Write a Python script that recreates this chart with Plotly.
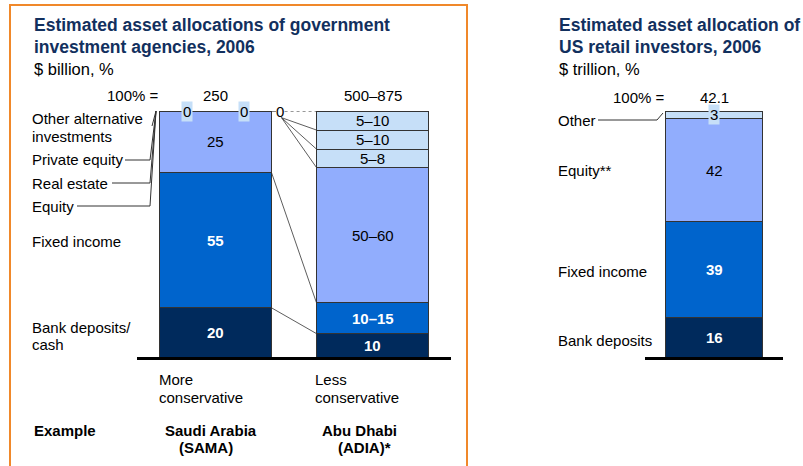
import plotly.graph_objects as go

# --- data -------------------------------------------------------------
agencies = ["SAMA", "ADIA"]
asset_classes = ["Bank deposits/cash", "Fixed income", "Equity",
                 "Real estate", "Private equity", "Other alternative investments"]
sama_share = [20, 55, 25, 0, 0, 0]
adia_share = [9.5, 12.5, 55, 7.5, 7.75, 7.75]      # midpoints of the ranges
adia_labels = ["10", "10–15", "50–60", "5–8", "5–10", "5–10"]
agency_totals = ["250", "500–875"]

us_classes = ["Bank deposits", "Fixed income", "Equity**", "Other"]
us_share = [16, 39, 42, 3]
us_total = "42.1"

# --- styling ----------------------------------------------------------
W, H = 803, 466
NAVY = "#002A5C"
BLUE = "#0064CC"
PERI = "#91ADFD"
LIGHT = "#C6DFF8"
TITLE = "#12305E"
FONT = "Liberation Sans, Arial, sans-serif"
FS = 15  # base text size
seg_colors = [NAVY, BLUE, PERI, LIGHT, LIGHT, LIGHT]
us_colors = [NAVY, BLUE, PERI, LIGHT]
BW = 0.713  # bar width in category units
PAD = 3     # annotation text inset in px


def px(x):
    return x / W


def py(y):
    return 1 - y / H


fig = go.Figure()

# left panel bars
for i, name in enumerate(asset_classes):
    fig.add_trace(go.Bar(
        x=[0, 1], y=[sama_share[i], adia_share[i]], name=name,
        marker=dict(color=seg_colors[i], line=dict(color="#333333", width=1)),
        width=BW, xaxis="x", yaxis="y", hoverinfo="skip",
    ))

# right panel bar
for i, name in enumerate(us_classes):
    fig.add_trace(go.Bar(
        x=[0], y=[us_share[i]], name=name,
        marker=dict(color=us_colors[i], line=dict(color="#333333", width=1)),
        width=0.71, xaxis="x2", yaxis="y2", hoverinfo="skip",
    ))

ann = []
shapes = []


def txt(x, y, text, size=FS, color="black", bold=False, xanchor="left",
        xref="paper", yref="paper", bg=None):
    if bold:
        text = "<b>" + text + "</b>"
    if xref == "paper" and xanchor == "left":
        x -= px(PAD)
    elif xref == "paper" and xanchor == "right":
        x += px(PAD)
    d = dict(x=x, y=y, xref=xref, yref=yref, text=text, showarrow=False,
             xanchor=xanchor, yanchor="middle", align=xanchor if xanchor != "center" else "center",
             font=dict(family=FONT, size=size, color=color))
    if bg:
        d.update(bgcolor=bg, borderpad=1)
    ann.append(d)


def line(x0, y0, x1, y1, xref="paper", yref="paper", width=1, dash="solid", color="#333333"):
    shapes.append(dict(type="line", x0=x0, y0=y0, x1=x1, y1=y1, xref=xref, yref=yref,
                       line=dict(color=color, width=width, dash=dash)))


# orange frame around the left panel
shapes.append(dict(type="rect", xref="paper", yref="paper",
                   x0=px(10), x1=px(467), y0=py(478), y1=py(5),
                   line=dict(color="#F0882A", width=2)))

# titles
txt(px(35), py(25), "Estimated asset allocations of government", 17.5, TITLE, True)
txt(px(35), py(47), "investment agencies, 2006", 17.5, TITLE, True)
txt(px(35), py(69), "$ billion, %", 16.5)
txt(px(560), py(25), "Estimated asset allocation of", 17.5, TITLE, True)
txt(px(560), py(47), "US retail investors, 2006", 17.5, TITLE, True)
txt(px(560), py(69), "$ trillion, %", 16.5)

# totals
txt(px(158), py(95), "100% =", xanchor="right")
for i, t in enumerate(agency_totals):
    txt(i, py(95), t, xanchor="center", xref="x")
txt(px(664), py(97), "100% =", xanchor="right")
txt(0, py(97), us_total, xanchor="center", xref="x2")

# segment labels - left bars
cum = 0
for i, v in enumerate(sama_share):
    if v > 0:
        dark = i < 2
        txt(0, cum + v / 2, str(v), FS, "white" if dark else "black", dark, "center", "x", "y")
    cum += v
for dx in (-0.18, 0.18, 0.41):
    txt(dx, 100, "0", FS, "black", False, "center", "x", "y", bg=LIGHT if dx < 0.3 else None)

cum = 0
adia_cum = []
for i, v in enumerate(adia_share):
    dark = i < 2
    txt(1, cum + v / 2, adia_labels[i], FS, "white" if dark else "black", dark,
        "center", "x", "y")
    cum += v
    adia_cum.append(cum)

sama_cum = []
cum = 0
for v in sama_share:
    cum += v
    sama_cum.append(cum)

# connectors between the two bars
r_edge, l_edge = BW / 2, 1 - BW / 2
line(r_edge, sama_cum[0], l_edge, adia_cum[0], "x", "y", 0.8)
line(r_edge, sama_cum[1], l_edge, adia_cum[1], "x", "y", 0.8)
line(r_edge, 100, 0.385, 100, "x", "y", 1.2)
line(0.44, 100, l_edge, 100, "x", "y", 1, "dot")
for c in adia_cum[2:5]:
    line(0.42, 97.3, l_edge, c, "x", "y", 0.8)

# left category labels + leader lines
txt(px(33), py(118), "Other alternative")
txt(px(33), py(136), "investments")
txt(px(33), py(159), "Private equity")
txt(px(33), py(183), "Real estate")
txt(px(33), py(206), "Equity")
txt(px(33), py(241), "Fixed income")
txt(px(33), py(327), "Bank deposits/")
txt(px(33), py(344), "cash")
line(px(152), py(126), px(156), py(111))
for y, xs in ((160, 125), (183, 112), (206, 77)):
    line(px(xs), py(y), px(150), py(y))
    line(px(150), py(y), px(156), py(111))

# captions under left bars
txt(px(160), py(379), "More")
txt(px(160), py(397), "conservative")
txt(px(316), py(379), "Less")
txt(px(316), py(397), "conservative")
txt(px(35), py(430), "Example", bold=True)
txt(-0.029, py(430), "Saudi Arabia", bold=True, xanchor="center", xref="x")
txt(-0.06, py(447), "(SAMA)", bold=True, xanchor="center", xref="x")
txt(0.917, py(430), "Abu Dhabi", bold=True, xanchor="center", xref="x")
txt(0.946, py(447), "(ADIA)*", bold=True, xanchor="center", xref="x")

# right bar labels
cum = 0
for i, v in enumerate(us_share):
    dark = i < 2
    txt(0, cum + v / 2, str(v), FS, "white" if dark else "black", dark,
        "center", "x2", "y2", bg=LIGHT if i == 3 else None)
    cum += v
txt(px(559), py(120), "Other")
line(px(598), py(120), px(657), py(120))
line(px(657), py(120), px(663), py(113))
txt(px(559), py(170), "Equity**")
txt(px(559), py(271), "Fixed income")
txt(px(559), py(340), "Bank deposits")

# baselines
line(px(137), py(358.5), px(451), py(358.5), width=3, color="black")
line(px(645), py(358.5), px(783), py(358.5), width=3, color="black")

ydom = [py(357), py(111)]
fig.update_layout(
    width=W, height=H, margin=dict(l=0, r=0, t=0, b=0),
    barmode="stack", showlegend=False,
    plot_bgcolor="white", paper_bgcolor="white",
    font=dict(family=FONT, size=FS, color="black"),
    xaxis=dict(domain=[px(137), px(451)], range=[-0.5, 1.5], visible=False),
    yaxis=dict(domain=ydom, range=[0, 100], visible=False),
    xaxis2=dict(domain=[px(645), px(783)], range=[-0.5, 0.5], visible=False, anchor="y2"),
    yaxis2=dict(domain=ydom, range=[0, 100], visible=False, anchor="x2"),
    annotations=ann, shapes=shapes,
)

# drop the default page margin so the figure sits at the window's top-left corner
fig.write_html("out.html", config={"displayModeBar": False},
               post_script="document.body.style.margin='0';")
